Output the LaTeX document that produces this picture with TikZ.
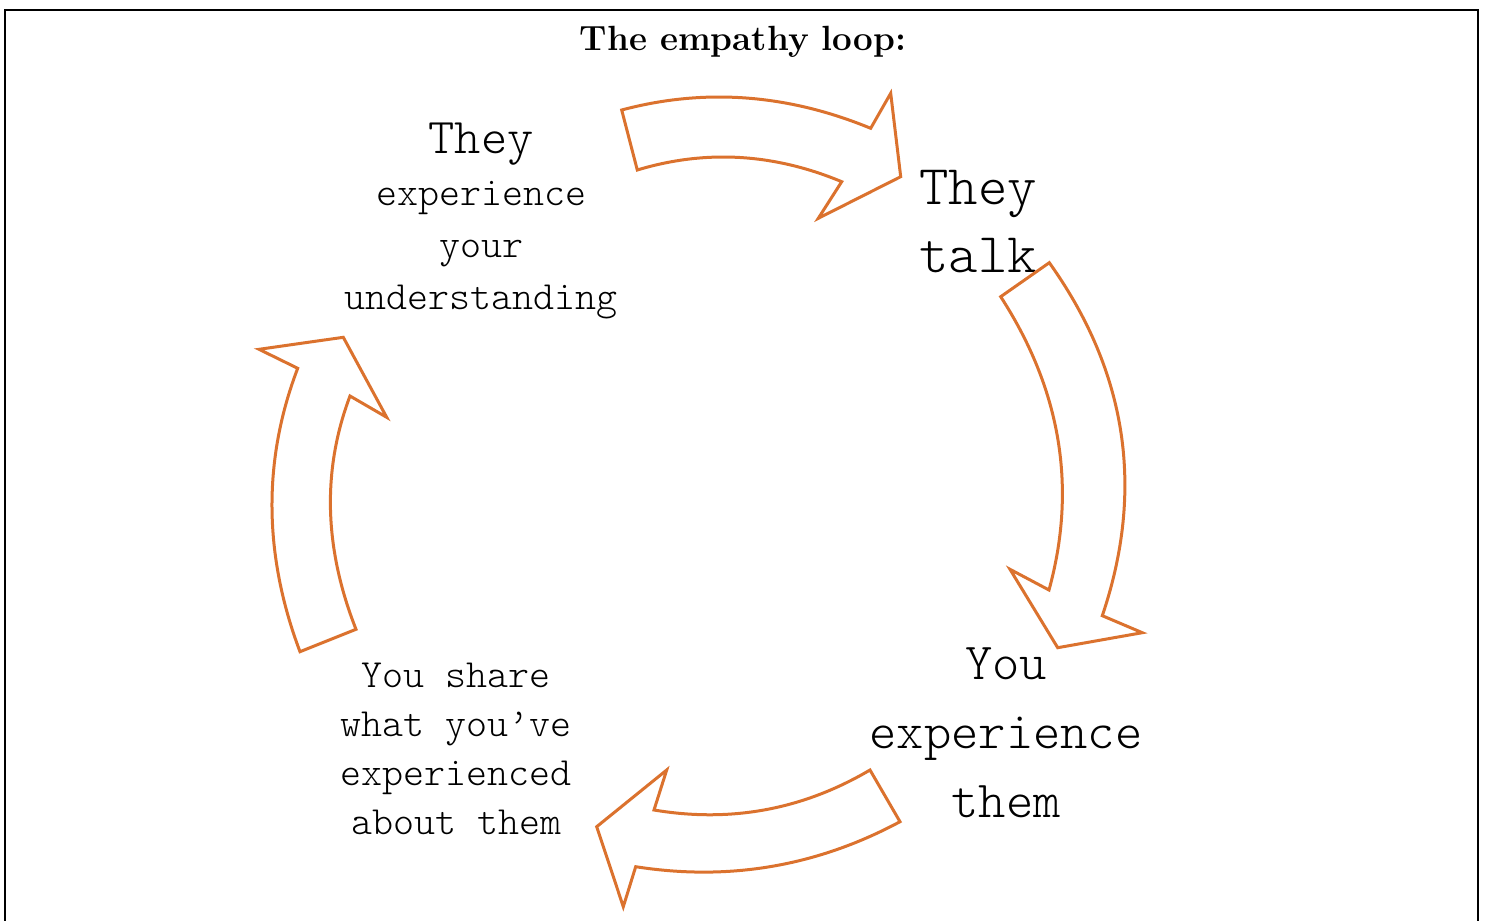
\documentclass[tikz,border=0pt]{standalone}
\usepackage{fontspec}
\usepackage{xcolor}
\definecolor{loopOrange}{RGB}{219,114,46}
\newfontfamily\lightmono{lmmonolt10-regular.otf}

\begin{document}
\begin{tikzpicture}[x=0.5pt,y=-0.5pt,
		loop arrow/.style={draw=loopOrange,line width=1.5pt,line join=miter},
		loop text/.style={align=center,inner sep=0pt}]
			\useasboundingbox (0,0) rectangle (1485,921);
			\draw[line width=1pt] (5,10) rectangle (1478,960);
			\node[inner sep=0pt,font=\rmfamily\bfseries\fontsize{17.5}{20}\selectfont] (title) at (743,42) {The empathy loop:};
			\node[loop text,font=\lightmono\fontsize{20}{26}\selectfont] (understand) at (481,221)
			{
				{\fontsize{25}{26}\selectfont They}\\experience\\your\\understanding
			};
			\node[loop text,font=\lightmono\fontsize{28}{34}\selectfont] (talk) at (978,222) {They\\talk};
			\node[loop text,font=\lightmono\fontsize{26}{34.5}\selectfont] (feel) at (1006,733) {You\\experience\\them};
			\node[loop text,font=\lightmono\fontsize{20}{24.5}\selectfont] (share) at (456,749)
			{
				You share\\what you’ve\\experienced\\about them
			};
			\draw[loop arrow] (621.7,110) .. controls (704.4,87.9) and (787.4,94.0) .. (870.7,128.3) -- (890.7,93.3) -- (900.7,176.7) -- (818.3,218.3) -- (841.7,181.7) .. controls (773.6,153.3) and (705.4,149.4) .. (637.3,170) -- cycle;
			\draw[loop arrow] (1049.3,262.7) .. controls (1127.3,372.1) and (1144.9,489.7) .. (1102.3,615.7) -- (1142.3,632.7) -- (1057.7,647.7) -- (1010,569.3) -- (1049,590) .. controls (1077.1,487.8) and (1061.0,390.0) .. (1000.7,296.7) -- cycle;
			\draw[loop arrow] (654,810) .. controls (730.8,822.9) and (802.8,809.6) .. (870,770) -- (900,821.7) .. controls (816.9,866.3) and (728.8,881.3) .. (635.7,866.7) -- (623.3,906.7) -- (596.7,826.7) -- (666.7,770) -- cycle;
			\draw[loop arrow] (300,651.7) .. controls (263.4,554.6) and (262.7,460.1) .. (297.7,368.3) -- (259,349.3) -- (343.3,337.3) -- (386.7,417.3) -- (350,396) .. controls (322,470.2) and (324,548.0) .. (356,629.3) -- cycle;
		\end{tikzpicture}
\end{document}
